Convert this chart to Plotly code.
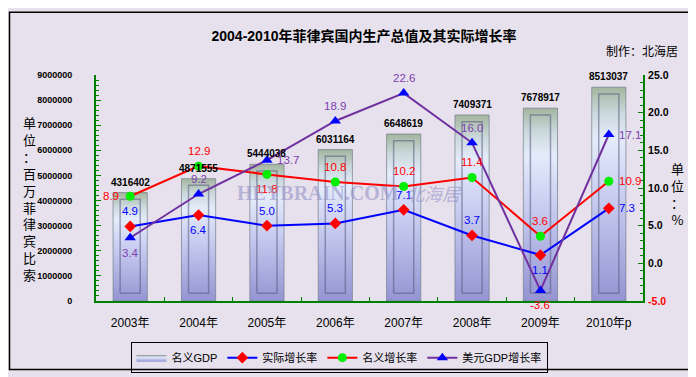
import plotly.graph_objects as go

# ---------------- data ----------------
years = ["2003年", "2004年", "2005年", "2006年", "2007年", "2008年", "2009年", "2010年p"]
gdp_nominal = [4316402, 4871555, 5444038, 6031164, 6648619, 7409371, 7678917, 8513037]
real_growth = [4.9, 6.4, 5.0, 5.3, 7.1, 3.7, 1.1, 7.3]
nominal_growth = [8.9, 12.9, 11.8, 10.8, 10.2, 11.4, 3.6, 10.9]
usd_growth = [3.4, 9.2, 13.7, 18.9, 22.6, 16.0, -3.6, 17.1]
# label placement codes: a=above, b=below, l=left, r=right
real_pos = ["a", "b", "a", "a", "a", "a", "b", "r"]
nominal_pos = ["l", "a", "b", "a", "a", "a", "a", "r"]
usd_pos = ["b", "a", "r", "a", "a", "a", "b", "r"]
left_ticks = [0, 1000000, 2000000, 3000000, 4000000, 5000000, 6000000, 7000000, 8000000, 9000000]
right_ticks = [-5, 0, 5, 10, 15, 20, 25]

# ---------------- style ----------------
W, H = 696, 377
L, R, T, B = 88, 61, 67, 74
PW, PH = W - L - R, H - T - B
BG = "#E6E1EC"
GREEN = "#008000"
SANS = "Liberation Sans, Arial, Noto Sans CJK SC, sans-serif"
CJK = "Noto Sans CJK SC, sans-serif"
C_REAL_LINE, C_REAL_MK, C_REAL_TXT = "#0000FF", "#FF0000", "#0000FF"
C_NOM_LINE, C_NOM_MK, C_NOM_TXT = "#FF0000", "#00EE00", "#FF0000"
C_USD_LINE, C_USD_MK, C_USD_TXT = "#7030A0", "#0000FF", "#7F3FB0"
BAR_HALF = 0.25
INNER_HALF = 0.147
BAR_SCALE = [[0, "#9494D2"], [0.45, "#C4C8EE"], [0.76, "#E4ECFB"], [0.88, "#CBD8DC"], [1, "#A3B59E"]]


def px_x(p):
    return (p - L) / PW


def px_y(p):
    return (H - B - p) / PH


fig = go.Figure()

# bars drawn as gradient-filled polygons on the primary axis
ymax = left_ticks[-1]
top_inset = ymax * 7 / PH
bot_inset = ymax * 8 / PH
for i, v in enumerate(gdp_nominal):
    fig.add_trace(go.Scatter(
        x=[i - BAR_HALF, i + BAR_HALF, i + BAR_HALF, i - BAR_HALF, i - BAR_HALF],
        y=[0, 0, v, v, 0],
        mode="lines", fill="toself",
        fillgradient=dict(type="vertical", colorscale=BAR_SCALE),
        line=dict(color="rgba(115,125,140,0.7)", width=1),
        name="名义GDP", legendgroup="gdp", showlegend=(i == 0),
        hoverinfo="skip", yaxis="y",
    ))
    fig.add_trace(go.Scatter(
        x=[i - INNER_HALF, i + INNER_HALF, i + INNER_HALF, i - INNER_HALF, i - INNER_HALF],
        y=[bot_inset, bot_inset, v - top_inset, v - top_inset, bot_inset],
        mode="lines", line=dict(color="rgba(90,90,125,0.55)", width=1.5),
        showlegend=False, hoverinfo="skip", yaxis="y",
    ))

xs = list(range(len(years)))
fig.add_trace(go.Scatter(
    x=xs, y=real_growth, yaxis="y2", mode="lines+markers", name="实际增长率",
    line=dict(color=C_REAL_LINE, width=2),
    marker=dict(symbol="diamond", color=C_REAL_MK, size=9),
))
fig.add_trace(go.Scatter(
    x=xs, y=nominal_growth, yaxis="y2", mode="lines+markers", name="名义增长率",
    line=dict(color=C_NOM_LINE, width=2),
    marker=dict(symbol="circle", color=C_NOM_MK, size=9),
))
fig.add_trace(go.Scatter(
    x=xs, y=usd_growth, yaxis="y2", mode="lines+markers", name="美元GDP增长率",
    line=dict(color=C_USD_LINE, width=2),
    marker=dict(symbol="triangle-up", color=C_USD_MK, size=10),
))

ann = []
# GDP value labels
for i, v in enumerate(gdp_nominal):
    ann.append(dict(x=i, y=v, xref="x", yref="y", text=str(v), showarrow=False,
                    yanchor="bottom", yshift=3,
                    font=dict(family=SANS, size=10, color="black", weight="bold")))


def add_labels(vals, pos, color):
    for i, (v, p) in enumerate(zip(vals, pos)):
        d = dict(x=i, y=v, xref="x", yref="y2", text=f"{v:.1f}", showarrow=False,
                 font=dict(family=SANS, size=11.5, color=("#FF0000" if v < 0 else color)))
        if p == "a":
            d.update(yanchor="bottom", yshift=7)
        elif p == "b":
            d.update(yanchor="top", yshift=-7)
        elif p == "l":
            d.update(xanchor="right", xshift=-9)
        else:
            d.update(xanchor="left", xshift=8)
        ann.append(d)


add_labels(real_growth, real_pos, C_REAL_TXT)
add_labels(nominal_growth, nominal_pos, C_NOM_TXT)
add_labels(usd_growth, usd_pos, C_USD_TXT)

# watermark
ann.append(dict(xref="paper", yref="paper", x=px_x(393), y=px_y(190), text="<b>HEYBRAIN.COM</b>",
                showarrow=False, xanchor="right", yanchor="middle",
                font=dict(family="Liberation Serif, Times New Roman, serif", size=20,
                          color="rgba(150,146,200,0.6)")))
ann.append(dict(xref="paper", yref="paper", x=px_x(396), y=px_y(190), text="<i>北海居</i>",
                showarrow=False, xanchor="left", yanchor="middle",
                font=dict(family=CJK, size=18, color="rgba(150,146,200,0.6)")))

# axis titles (vertical stacked characters)
ann.append(dict(xref="paper", yref="paper", x=px_x(21), y=px_y(196),
                text="<br>".join(list("单位：百万菲律宾比索")), showarrow=False,
                xanchor="center", yanchor="middle",
                font=dict(family=CJK, size=13, color="black")))
ann.append(dict(xref="paper", yref="paper", x=px_x(669), y=px_y(191),
                text="<br>".join(list("单位：%")), showarrow=False,
                xanchor="center", yanchor="middle",
                font=dict(family=CJK, size=13, color="black")))
# maker note
ann.append(dict(xref="paper", yref="paper", x=px_x(672), y=px_y(41), text="制作：北海居",
                showarrow=False, xanchor="right", yanchor="middle",
                font=dict(family=CJK, size=12, color="black")))

fig.update_layout(
    width=W, height=H,
    margin=dict(l=L, r=R, t=T, b=B, pad=0),
    paper_bgcolor=BG, plot_bgcolor=BG,
    title=dict(text="2004-2010年菲律宾国内生产总值及其实际增长率",
               x=356 / W, xanchor="center", y=1 - 28 / H, yanchor="middle",
               font=dict(family=SANS, size=14, color="black", weight="bold")),
    annotations=ann,
    showlegend=True,
    legend=dict(orientation="h", x=px_x(331), xanchor="center", y=px_y(346), yanchor="top",
                bordercolor="black", borderwidth=1, bgcolor="rgba(0,0,0,0)",
                font=dict(family=SANS, size=11, color="black"),
                itemwidth=30, traceorder="normal", tracegroupgap=0),
    xaxis=dict(range=[-0.5, len(years) - 0.5], tickvals=xs, ticktext=years,
               showline=True, linecolor=GREEN, linewidth=2, showgrid=False, zeroline=False,
               ticks="inside", ticklen=0, ticklabelstandoff=10,
               tickfont=dict(family=SANS, size=12, color="black"),
               minor=dict(tickvals=[i + 0.5 for i in xs[:-1]], ticks="inside", ticklen=4,
                          tickcolor=GREEN, tickwidth=1)),
    yaxis=dict(range=[left_ticks[0], left_ticks[-1]], tickvals=left_ticks, tickformat="d",
               showline=True, linecolor=GREEN, linewidth=2, showgrid=False, zeroline=False,
               ticks="inside", ticklen=5, tickcolor=GREEN, tickwidth=1, ticklabelstandoff=20,
               tickfont=dict(family=SANS, size=9, color="black", weight="bold"),
               minor=dict(dtick=200000, ticks="inside", ticklen=3, tickcolor=GREEN, tickwidth=1)),
    yaxis2=dict(range=[right_ticks[0], right_ticks[-1]], overlaying="y", side="right",
                tickvals=right_ticks,
                ticktext=[(f"<span style='color:#FF0000'>{t:.1f}</span>" if t < 0 else f"{t:.1f}")
                          for t in right_ticks],
                showline=True, linecolor=GREEN, linewidth=2, showgrid=False, zeroline=False,
                ticks="inside", ticklen=5, tickcolor=GREEN, tickwidth=1, ticklabelstandoff=1,
                tickfont=dict(family=SANS, size=10.5, color="black", weight="bold"),
                minor=dict(dtick=1, ticks="inside", ticklen=3, tickcolor=GREEN, tickwidth=1)),
    shapes=[dict(type="rect", xref="paper", yref="paper",
                 x0=px_x(1.5), x1=px_x(694.5), y0=px_y(374.5), y1=px_y(1.5),
                 line=dict(color="black", width=1.5), fillcolor="rgba(0,0,0,0)", layer="below")],
)

fig.write_html("out.html")
